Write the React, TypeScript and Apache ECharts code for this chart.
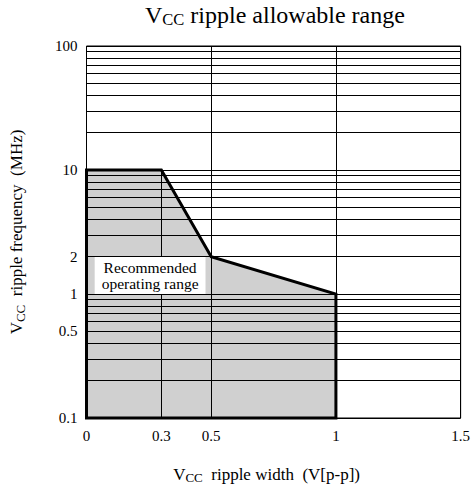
import React, { useEffect, useRef } from "react";
import * as echarts from "echarts";

const FONT = "Liberation Serif";

// x axis (ripple width, V[p-p])
const xTickLabels = [0, 0.3, 0.5, 1, 1.5];
const xGridLines = [0.5, 1, 1.5];
const xPartialGrid = [0.3];
const xPartialGridRange = [0.1, 10];

// y axis (ripple frequency, MHz) log scale
const yTickLabels = [0.1, 0.5, 1, 2, 10, 100];
const yGridLines = [
  0.1, 0.2, 0.3, 0.4, 0.5, 0.6, 0.7, 0.8, 0.9,
  1, 2, 3, 4, 5, 6, 7, 8, 9,
  10, 20, 30, 40, 50, 60, 70, 80, 90, 100,
];

// recommended operating range boundary
const regionX = [0, 0, 0.3, 0.5, 1, 1, 0];
const regionY = [0.1, 10, 10, 2, 1, 0.1, 0.1];

// annotation
const noteLines = ["Recommended", "operating range"];
const noteAt = [0.255, 1.41];

const titleText = "{v|V}{s|CC}{v| ripple allowable range}";
const xName = "{v|V}{s|CC}{v|  ripple width  (V[p-p])}";
const yName = "{v|V}{s|CC}{v|  ripple frequency  (MHz)}";

export default function App() {
  const ref = useRef<HTMLDivElement>(null);
  useEffect(() => {
    const chart = echarts.init(ref.current!, null, { renderer: "svg" });
    const fillPts = regionX.slice(1, 6).map((x, i) => [x, regionY[i + 1]]);
    const outlinePts = regionX.map((x, i) => [x, regionY[i]]);
    const nameRich = (big: number, small: number, pad: number) => ({
      v: { fontSize: big, fontFamily: FONT, fontWeight: "normal", color: "#000" },
      s: {
        fontSize: small,
        fontFamily: FONT,
        fontWeight: "normal",
        color: "#000",
        padding: [pad, 0, 0, 0],
      },
    });
    const noteLabel = {
      show: true,
      position: "inside",
      formatter: noteLines.map((l) => `{n|${l}}`).join("\n"),
      backgroundColor: "#fff",
      padding: [3, 7, 3, 7],
      fontFamily: FONT,
      fontSize: 15.5,
      lineHeight: 15.5,
      color: "#000",
      align: "center",
      rich: {
        n: {
          fontFamily: FONT,
          fontSize: 15.5,
          lineHeight: 15.5,
          fontWeight: "normal",
          color: "#000",
          align: "center",
        },
      },
    };
    const option: any = {
      animation: false,
      backgroundColor: "#fff",
      title: {
        text: titleText,
        left: 140,
        top: -3,
        textStyle: {
          fontFamily: FONT,
          fontWeight: "normal",
          fontSize: 24,
          color: "#000",
          rich: nameRich(24, 16.5, 9),
        },
      },
      grid: {
        left: 86,
        right: 10,
        top: 46,
        bottom: 65,
        show: true,
        borderColor: "#000",
        borderWidth: 1,
      },
      xAxis: {
        type: "value",
        min: 0,
        max: 1.5,
        interval: 0.1,
        axisLine: { show: false },
        axisTick: { show: false },
        splitLine: { show: false },
        axisLabel: {
          color: "#000",
          fontSize: 15,
          fontFamily: FONT,
          margin: 10,
          formatter: (v: number) => {
            const t = xTickLabels.find((t) => Math.abs(t - v) < 1e-6);
            return t === undefined ? "" : String(t);
          },
        },
        name: xName,
        nameLocation: "middle",
        nameGap: 46,
        nameTextStyle: {
          fontFamily: FONT,
          padding: [0, 14, 0, 0],
          rich: nameRich(17, 13, 7),
        },
      },
      yAxis: {
        type: "log",
        logBase: 10,
        min: 0.1,
        max: 100,
        axisLine: { show: false },
        axisTick: { show: false },
        splitLine: { show: false },
        axisLabel: { show: false },
        name: yName,
        nameLocation: "middle",
        nameGap: 60,
        nameRotate: 90,
        nameTextStyle: { fontFamily: FONT, rich: nameRich(17, 13, 7) },
      },
      series: [
        {
          type: "line",
          data: fillPts,
          symbol: "none",
          silent: true,
          z: 1,
          lineStyle: { width: 0 },
          areaStyle: { color: "#d0d0d0", opacity: 1, origin: "start" },
        },
        {
          type: "line",
          data: [],
          z: 2,
          markLine: {
            silent: true,
            z: 2,
            symbol: ["none", "none"],
            lineStyle: { color: "#000", width: 1, type: "solid" },
            label: { show: false },
            emphasis: { disabled: true },
            data: [
              ...yGridLines.map((v) => ({
                yAxis: v,
                label: yTickLabels.includes(v)
                  ? {
                      show: true,
                      position: "start",
                      distance: 9,
                      formatter: String(v),
                      color: "#000",
                      fontSize: 15,
                      fontFamily: FONT,
                    }
                  : { show: false },
              })),
              ...xGridLines.map((v) => ({ xAxis: v })),
              ...xPartialGrid.map((v) => [
                { coord: [v, xPartialGridRange[0]] },
                { coord: [v, xPartialGridRange[1]] },
              ]),
            ],
          },
        },
        {
          type: "line",
          data: outlinePts,
          symbol: "none",
          silent: true,
          clip: false,
          z: 10,
          lineStyle: { color: "#000", width: 3, cap: "square", join: "miter" },
          markPoint: {
            symbol: "rect",
            symbolSize: 0,
            silent: true,
            z: 20,
            data: [{ coord: noteAt, label: noteLabel }],
            label: noteLabel,
          },
        },
      ],
    };
    chart.setOption(option);
    return () => chart.dispose();
  }, []);
  return (
    <div
      ref={ref}
      style={{ position: "fixed", left: 0, top: 0, width: 473, height: 489 }}
    />
  );
}
